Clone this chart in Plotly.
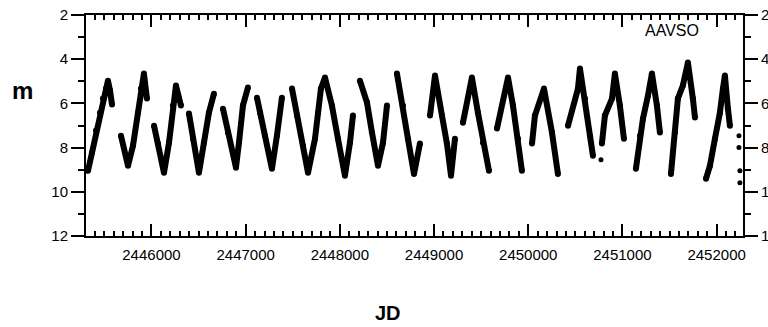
import plotly.graph_objects as go

# Light-curve vertices (None separates observing seasons)
jd = [
    2445326, 2445368, 2445411, 2445453, 2445485, 2445517, 2445538, 2445559, 2445581, None,
    2445676, 2445751, 2445804, 2445857, 2445889, 2445920, 2445952, None,
    2446027, 2446069, 2446133, 2446186, 2446228, 2446260, 2446313, None,
    2446398, 2446441, 2446504, 2446557, 2446610, 2446663, None,
    2446759, 2446812, 2446897, 2446929, 2446971, 2447024, None,
    2447120, 2447152, 2447205, 2447279, 2447332, 2447385, None,
    2447492, 2447545, 2447608, 2447662, 2447736, 2447768, 2447799, 2447842, 2447916, 2447980, 2448054, 2448107, 2448139, None,
    2448213, 2448288, 2448341, 2448405, 2448458, 2448500, None,
    2448606, 2448670, 2448723, 2448787, 2448850, None,
    2448957, 2449010, 2449084, 2449137, 2449180, 2449222, None,
    2449307, 2449402, 2449466, 2449519, 2449583, None,
    2449668, 2449785, 2449838, 2449891, 2449933, None,
    2450040, 2450071, 2450167, 2450252, 2450315, None,
    2450422, 2450528, 2450549, 2450602, 2450655, 2450687, None,
    2450782, 2450814, 2450889, 2450920, 2450973, 2451016, None,
    2451143, 2451186, 2451218, 2451271, 2451313, 2451366, 2451398, None,
    2451515, 2451557, 2451589, 2451642, 2451695, 2451748, 2451770, None,
    2451887, 2451929, 2451982, 2452035, 2452067, 2452088, 2452120, 2452141,
]
mag = [
    9.05, 8.23, 7.23, 6.42, 5.78, 5.33, 4.97, 5.40, 6.05, None,
    7.46, 8.82, 7.91, 6.42, 5.33, 4.65, 5.78, None,
    7.01, 7.82, 9.14, 7.78, 6.10, 5.19, 6.10, None,
    6.46, 7.60, 9.14, 7.78, 6.42, 5.56, None,
    6.24, 7.32, 8.91, 7.78, 6.10, 5.28, None,
    5.74, 6.42, 7.46, 8.96, 7.46, 5.74, None,
    5.33, 6.55, 7.91, 9.14, 7.60, 6.42, 5.33, 4.83, 6.10, 7.60, 9.27, 7.78, 6.55, None,
    4.97, 5.96, 7.32, 8.82, 7.78, 6.10, None,
    4.65, 6.10, 7.60, 9.20, 7.82, None,
    6.55, 4.74, 6.55, 7.82, 9.27, 7.60, None,
    6.87, 4.83, 6.42, 7.78, 9.05, None,
    7.14, 4.83, 6.10, 7.60, 9.05, None,
    7.82, 6.55, 5.33, 7.32, 9.19, None,
    7.01, 5.33, 4.42, 5.78, 7.46, 8.37, None,
    7.82, 6.55, 5.78, 4.65, 6.10, 7.60, None,
    8.96, 7.46, 6.69, 5.65, 4.65, 6.10, 7.32, None,
    9.19, 7.32, 5.78, 5.19, 4.15, 5.78, 6.64, None,
    9.41, 8.82, 7.60, 6.42, 5.33, 4.74, 6.24, 7.01,
]
# isolated observations
jd_extra = [2450772, 2452237, 2452237, 2452247, 2452247]
mag_extra = [8.55, 7.46, 8.00, 9.05, 9.59]

x_ticks = [2446000, 2447000, 2448000, 2449000, 2450000, 2451000, 2452000]
y_ticks = [2, 4, 6, 8, 10, 12]
x_range = [2445305, 2452280]
y_range = [12, 2]

tickfont = dict(family="Liberation Sans, Arial, sans-serif", size=15, color="black")

fig = go.Figure()
fig.add_trace(go.Scatter(x=jd, y=mag, mode="lines+markers",
                         line=dict(color="black", width=6),
                         marker=dict(color="black", size=6),
                         connectgaps=False, showlegend=False, hoverinfo="skip"))
fig.add_trace(go.Scatter(x=jd_extra, y=mag_extra, mode="markers",
                         marker=dict(color="black", size=5),
                         showlegend=False, hoverinfo="skip"))
# invisible trace to anchor the mirrored axes
fig.add_trace(go.Scatter(x=[x_ticks[0]], y=[y_ticks[1]], xaxis="x2", yaxis="y2",
                         mode="markers", marker=dict(opacity=0), showlegend=False,
                         hoverinfo="skip"))

common_x = dict(range=x_range, tickvals=x_ticks, showline=True, linewidth=2,
                linecolor="black", showgrid=False, zeroline=False, automargin=False,
                tickwidth=2, tickcolor="black", ticklen=12, ticks="inside",
                minor=dict(dtick=100, tick0=2446000, ticks="inside", ticklen=5,
                           tickwidth=1.5, tickcolor="black"))
common_y = dict(range=y_range, tickvals=y_ticks, showline=True, linewidth=2,
                linecolor="black", showgrid=False, zeroline=False, automargin=False,
                tickwidth=2, tickcolor="black", ticklen=13, ticks="outside",
                minor=dict(dtick=1, tick0=2, ticks="outside", ticklen=6,
                           tickwidth=2, tickcolor="black"))

W, H = 768, 327
l, r, t, b = 86, 25, 15, 91
pw, ph = W - l - r, H - t - b


def ann(text, px, py, size, bold=False):
    return dict(text=f"<b>{text}</b>" if bold else text,
                x=(px - l) / pw, y=1 - (py - t) / ph, xref="paper", yref="paper",
                xanchor="center", yanchor="middle", showarrow=False,
                font=dict(family="Liberation Sans, Arial, sans-serif", size=size,
                          color="black"))


fig.update_layout(
    width=W, height=H,
    margin=dict(l=l, r=r, t=t, b=b, autoexpand=False),
    plot_bgcolor="white", paper_bgcolor="white",
    xaxis=dict(**common_x, side="bottom", tickformat="d", tickfont=tickfont,
               ticklabelstandoff=4),
    xaxis2=dict(**common_x, side="top", overlaying="x", showticklabels=False),
    yaxis=dict(**common_y, side="left", tickfont=tickfont),
    yaxis2=dict(**common_y, side="right", overlaying="y", tickfont=tickfont),
    annotations=[
        ann("m", 22, 90, 24, bold=True),
        ann("JD", 388, 313, 20, bold=True),
        ann("AAVSO", 672, 31, 16),
    ],
)

fig.write_html("out.html")
